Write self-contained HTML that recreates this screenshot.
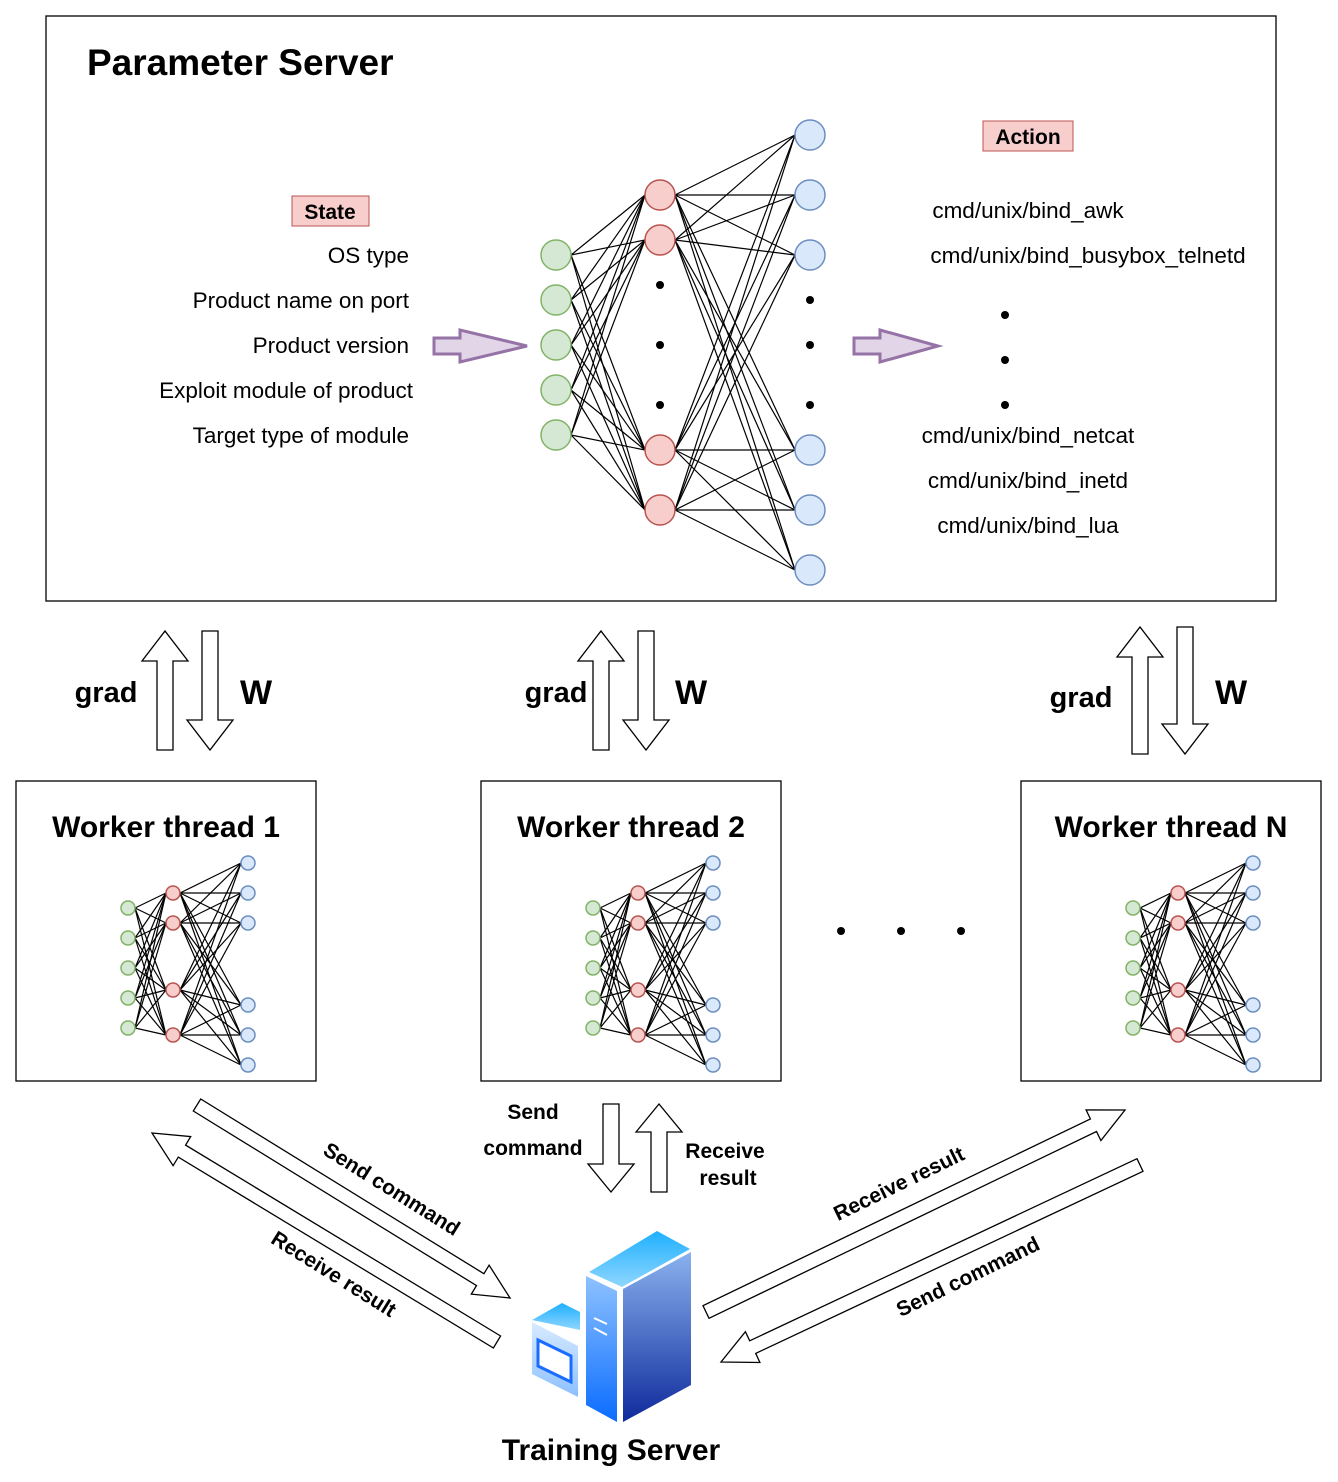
<!DOCTYPE html>
<html><head><meta charset="utf-8"><style>
body{margin:0;background:#fff}
svg{display:block;font-family:"Liberation Sans",Arial,sans-serif}
</style></head><body>
<svg id="s" width="1338" height="1482" viewBox="0 0 1338 1482" xmlns="http://www.w3.org/2000/svg">
<defs>
<linearGradient id="gTop" x1="0" y1="0" x2="0" y2="1"><stop offset="0" stop-color="#1fb0ff"/><stop offset="1" stop-color="#8fd6ff"/></linearGradient>
<linearGradient id="gFront" x1="0" y1="0" x2="0" y2="1"><stop offset="0" stop-color="#8ec2ff"/><stop offset="1" stop-color="#0a6cff"/></linearGradient>
<linearGradient id="gSide" x1="0" y1="0" x2="0" y2="1"><stop offset="0" stop-color="#8ab2ee"/><stop offset="1" stop-color="#0f2a9c"/></linearGradient>
<linearGradient id="gSmall" x1="0" y1="0" x2="0" y2="1"><stop offset="0" stop-color="#d8ebff"/><stop offset="1" stop-color="#8cc0ff"/></linearGradient>
</defs>
<rect x="46" y="16" width="1230" height="585" fill="#fff" stroke="#000" stroke-width="1.3"/>
<text x="87" y="75" font-size="37" font-weight="bold">Parameter Server</text>
<rect x="292" y="196" width="77" height="30" fill="#f8cecc" stroke="#b85450"/>
<text x="330" y="219" font-size="21" font-weight="bold" text-anchor="middle">State</text>
<g font-size="22.5" text-anchor="end">
<text x="409" y="263">OS type</text>
<text x="409" y="308">Product name on port</text>
<text x="409" y="353">Product version</text>
<text x="413" y="398">Exploit module of product</text>
<text x="409" y="443">Target type of module</text>
</g>
<rect x="983" y="121" width="90" height="30" fill="#f8cecc" stroke="#b85450"/>
<text x="1028" y="144" font-size="21" font-weight="bold" text-anchor="middle">Action</text>
<g font-size="22.5" text-anchor="middle">
<text x="1028" y="218">cmd/unix/bind_awk</text>
<text x="1088" y="263">cmd/unix/bind_busybox_telnetd</text>
<text x="1028" y="443">cmd/unix/bind_netcat</text>
<text x="1028" y="488">cmd/unix/bind_inetd</text>
<text x="1028" y="533">cmd/unix/bind_lua</text>
</g>
<g fill="#000">
<circle cx="1005" cy="315" r="4"/><circle cx="1005" cy="360" r="4"/><circle cx="1005" cy="405" r="4"/>
<circle cx="660" cy="285" r="4"/><circle cx="660" cy="345" r="4"/><circle cx="660" cy="405" r="4"/>
<circle cx="810" cy="300" r="4"/><circle cx="810" cy="345" r="4"/><circle cx="810" cy="405" r="4"/>
<circle cx="841" cy="931" r="4"/><circle cx="901" cy="931" r="4"/><circle cx="961" cy="931" r="4"/>
</g>
<polygon points="434,338 460,338 460,330 527,346 460,362 460,354 434,354" fill="#e1d5e7" stroke="#9673a6" stroke-width="3"/>
<polygon points="854,338 880,338 880,330 938,346 880,362 880,354 854,354" fill="#e1d5e7" stroke="#9673a6" stroke-width="3"/>
<g id="nets"></g>
<g fill="none" stroke="#000" stroke-width="1.3">
<rect x="16" y="781" width="300" height="300"/>
<rect x="481" y="781" width="300" height="300"/>
<rect x="1021" y="781" width="300" height="300"/>
</g>
<g font-size="30" font-weight="bold" text-anchor="middle">
<text x="166" y="837">Worker thread 1</text>
<text x="631" y="837">Worker thread 2</text>
<text x="1171" y="837">Worker thread N</text>
<text x="106" y="702" font-size="29">grad</text><text x="256" y="704" font-size="34">W</text>
<text x="556" y="702" font-size="29">grad</text><text x="691" y="704" font-size="34">W</text>
<text x="1081" y="707" font-size="29">grad</text><text x="1231" y="704" font-size="34">W</text>
</g>
<g id="arrows" fill="#fff" stroke="#000" stroke-width="1.3"></g>
<g font-size="21" font-weight="bold" text-anchor="middle">
<text x="533" y="1119">Send</text><text x="533" y="1155">command</text>
<text x="725" y="1158">Receive</text><text x="728" y="1185">result</text>
<text transform="translate(388,1195) rotate(32)" >Send command</text>
<text transform="translate(330,1280) rotate(32)">Receive result</text>
<text transform="translate(902,1190) rotate(-26)">Receive result</text>
<text transform="translate(971,1283) rotate(-26)">Send command</text>
<text x="611" y="1460" font-size="30">Training Server</text>
</g>
<g>
<polygon points="532,1320 562,1303 580,1312 580,1330" fill="url(#gTop)"/>
<polygon points="532,1322 578,1346 578,1397 532,1374" fill="url(#gSmall)"/>
<polygon points="538,1340 571,1356 571,1382 538,1366" fill="#fff" stroke="#1a6cff" stroke-width="3"/>
<polygon points="589,1272 657,1231 690,1249 622,1287" fill="url(#gTop)"/>
<polygon points="586,1276 617,1291 617,1422 586,1405" fill="url(#gFront)"/>
<polygon points="623,1289 691,1252 691,1385 623,1422" fill="url(#gSide)"/>
<line x1="594" y1="1318" x2="607" y2="1324" stroke="#fff" stroke-width="2"/>
<line x1="594" y1="1328" x2="607" y2="1335" stroke="#fff" stroke-width="2"/>
</g>
</svg>
<script>
var NS="http://www.w3.org/2000/svg";
function el(p,t,a){var e=document.createElementNS(NS,t);for(var k in a)e.setAttribute(k,a[k]);p.appendChild(e);return e;}
var nets=document.getElementById('nets');
function net(gx,rx,bx,gy,ry,by,r,sw){
 var g=el(nets,'g',{});
 gy.forEach(function(a){ry.forEach(function(b){el(g,'line',{x1:gx+r,y1:a,x2:rx-r,y2:b,stroke:'#000','stroke-width':sw});});});
 ry.forEach(function(a){by.forEach(function(b){el(g,'line',{x1:rx+r,y1:a,x2:bx-r,y2:b,stroke:'#000','stroke-width':sw});});});
 gy.forEach(function(y){el(g,'circle',{cx:gx,cy:y,r:r,fill:'#d5e8d4',stroke:'#82b366','stroke-width':1.5});});
 ry.forEach(function(y){el(g,'circle',{cx:rx,cy:y,r:r,fill:'#f8cecc',stroke:'#b85450','stroke-width':1.5});});
 by.forEach(function(y){el(g,'circle',{cx:bx,cy:y,r:r,fill:'#dae8fc',stroke:'#6c8ebf','stroke-width':1.5});});
}
net(556,660,810,[255,300,345,390,435],[195,240,450,510],[135,195,255,450,510,570],15,1.2);
[0,465,1005].forEach(function(o){net(128+o,173+o,248+o,[908,938,968,998,1028],[893,923,990,1035],[863,893,923,1005,1035,1065],7,1.2);});
var ar=document.getElementById('arrows');
function barrow(x1,y1,x2,y2,sw,hw,hl){
 var dx=x2-x1,dy=y2-y1,L=Math.sqrt(dx*dx+dy*dy),ux=dx/L,uy=dy/L,px=-uy,py=ux;
 var bx=x2-ux*hl,by=y2-uy*hl;
 var pts=[[x1+px*sw,y1+py*sw],[bx+px*sw,by+py*sw],[bx+px*hw,by+py*hw],[x2,y2],[bx-px*hw,by-py*hw],[bx-px*sw,by-py*sw],[x1-px*sw,y1-py*sw]];
 el(ar,'polygon',{points:pts.map(function(p){return p[0].toFixed(1)+','+p[1].toFixed(1);}).join(' ')});
}
barrow(165,750,165,631,8,23,30);barrow(210,631,210,750,8,23,30);
barrow(601,750,601,631,8,23,30);barrow(646,631,646,750,8,23,30);
barrow(1140,754,1140,627,8,23,30);barrow(1185,627,1185,754,8,23,30);
barrow(611,1104,611,1192,8,23,28);barrow(659,1192,659,1104,8,23,28);
barrow(197,1105,510,1298,7,17,35);barrow(497,1342,152,1133,7,17,35);
barrow(706,1312,1125,1110,7,17,35);barrow(1140,1165,721,1362,7,17,35);
</script>
</body></html>
